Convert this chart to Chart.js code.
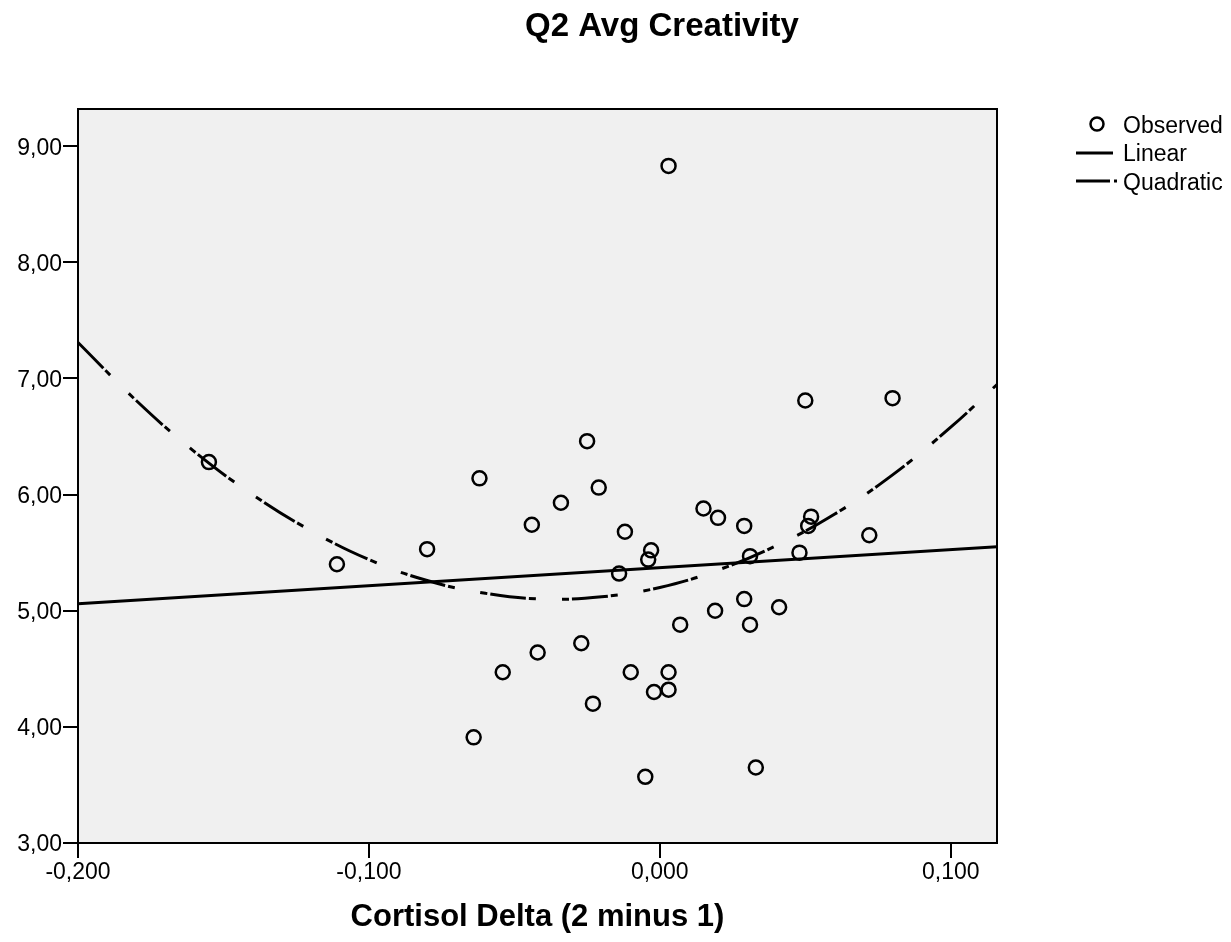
<!DOCTYPE html>
<html>
<head>
<meta charset="utf-8">
<script src="https://cdn.jsdelivr.net/npm/chart.js@4/dist/chart.umd.min.js"></script>
<style>
  body { margin: 0; background: #fff; }
  canvas { display: block; }
</style>
</head>
<body>
<canvas id="chart" width="1231" height="942"></canvas>
<script>
// observed points (cortisol delta, avg creativity)
const obsX = [-0.155, -0.111, -0.080, -0.064, -0.062, -0.054, -0.044, -0.042, -0.034, -0.027,
  -0.025, -0.023, -0.021, -0.014, -0.012, -0.010, -0.005, -0.004, -0.003, -0.002,
  0.003, 0.003, 0.003, 0.007, 0.015, 0.019, 0.020, 0.029, 0.029, 0.031,
  0.031, 0.033, 0.041, 0.048, 0.050, 0.051, 0.052, 0.072, 0.080];
const obsY = [6.28, 5.40, 5.53, 3.91, 6.14, 4.47, 5.74, 4.64, 5.93, 4.72,
  6.46, 4.20, 6.06, 5.32, 5.68, 4.47, 3.57, 5.44, 5.52, 4.30,
  8.83, 4.47, 4.32, 4.88, 5.88, 5.00, 5.80, 5.73, 5.10, 5.47,
  4.88, 3.65, 5.03, 5.50, 6.81, 5.73, 5.81, 5.65, 6.83];

// fit lines
const linX = [-0.200, 0.116];
const linY = [5.06, 5.55];
const quadX = [-0.20, -0.18, -0.16, -0.14, -0.12, -0.10, -0.08, -0.06, -0.04, -0.02,
  0.00, 0.02, 0.04, 0.06, 0.08, 0.10, 0.116];
const quadY = [7.31, 6.81, 6.37, 6.00, 5.69, 5.44, 5.26, 5.15, 5.10, 5.12,
  5.20, 5.35, 5.56, 5.83, 6.17, 6.58, 6.95];

const xTicks = [-0.2, -0.1, 0, 0.1];
const yTicks = [3, 4, 5, 6, 7, 8, 9];

const FONT = "'Liberation Sans', Arial, sans-serif";
const quadDash = [36, 3, 7, 26, 7, 3];

function pairs(xs, ys) {
  return xs.map((x, i) => ({ x: x, y: ys[i] }));
}

function commaNum(v, digits) {
  let s = Math.abs(v) < 1e-9 ? (0).toFixed(digits) : v.toFixed(digits);
  return s.replace('.', ',');
}

const decor = {
  id: 'decor',
  beforeDraw(chart) {
    const ctx = chart.ctx;
    const a = chart.chartArea;
    ctx.save();
    ctx.fillStyle = '#f0f0f0';
    ctx.fillRect(a.left, a.top, a.right - a.left, a.bottom - a.top);
    ctx.restore();
  },
  afterDraw(chart) {
    const ctx = chart.ctx;
    const a = chart.chartArea;
    ctx.save();
    // top and right frame
    ctx.strokeStyle = '#000';
    ctx.lineWidth = 2;
    ctx.beginPath();
    ctx.moveTo(a.left, a.top);
    ctx.lineTo(a.right, a.top);
    ctx.lineTo(a.right, a.bottom);
    ctx.stroke();

    // titles
    ctx.fillStyle = '#000';
    ctx.textAlign = 'center';
    ctx.textBaseline = 'alphabetic';
    ctx.font = 'bold 33px ' + FONT;
    ctx.fillText('Q2 Avg Creativity', 662, 36);
    ctx.font = 'bold 31px ' + FONT;
    ctx.fillText('Cortisol Delta (2 minus 1)', (a.left + a.right) / 2, 926);

    // legend
    ctx.font = '23px ' + FONT;
    ctx.textAlign = 'left';
    ctx.textBaseline = 'middle';
    ctx.lineWidth = 2.5;
    ctx.beginPath();
    ctx.arc(1097, 124, 6.5, 0, Math.PI * 2);
    ctx.stroke();
    ctx.fillText('Observed', 1123, 127);

    ctx.lineWidth = 3;
    ctx.beginPath();
    ctx.moveTo(1076, 153);
    ctx.lineTo(1113, 153);
    ctx.stroke();
    ctx.fillText('Linear', 1123, 155);

    ctx.beginPath();
    ctx.moveTo(1076, 181);
    ctx.lineTo(1110, 181);
    ctx.moveTo(1114, 181);
    ctx.lineTo(1117, 181);
    ctx.stroke();
    ctx.fillText('Quadratic', 1123, 184);
    ctx.restore();
  }
};

new Chart(document.getElementById('chart'), {
  type: 'scatter',
  data: {
    datasets: [
      {
        label: 'Observed',
        data: pairs(obsX, obsY),
        pointRadius: 7,
        pointBorderWidth: 2.5,
        pointBorderColor: '#000',
        pointBackgroundColor: 'rgba(0,0,0,0)',
        showLine: false
      },
      {
        label: 'Linear',
        data: pairs(linX, linY),
        showLine: true,
        pointRadius: 0,
        borderColor: '#000',
        borderWidth: 3
      },
      {
        label: 'Quadratic',
        data: pairs(quadX, quadY),
        showLine: true,
        pointRadius: 0,
        borderColor: '#000',
        borderWidth: 3,
        borderDash: quadDash,
        tension: 0.4
      }
    ]
  },
  options: {
    responsive: false,
    animation: false,
    events: [],
    layout: { padding: { left: 0, top: 109, right: 234, bottom: 0 } },
    plugins: {
      legend: { display: false },
      title: { display: false },
      tooltip: { enabled: false }
    },
    scales: {
      x: {
        type: 'linear',
        min: -0.2,
        max: 0.1159,
        afterFit(scale) { scale.height = 99; },
        afterBuildTicks(scale) { scale.ticks = xTicks.map(v => ({ value: v })); },
        border: { display: true, color: '#000', width: 2 },
        grid: { drawOnChartArea: false, drawTicks: true, tickLength: 15, color: '#000', lineWidth: 2 },
        ticks: {
          color: '#000',
          font: { family: FONT, size: 23 },
          padding: 1,
          maxRotation: 0,
          callback: v => commaNum(v, 3)
        }
      },
      y: {
        type: 'linear',
        min: 3,
        max: 9.32,
        afterFit(scale) { scale.width = 78; },
        afterBuildTicks(scale) { scale.ticks = yTicks.map(v => ({ value: v })); },
        border: { display: true, color: '#000', width: 2 },
        grid: { drawOnChartArea: false, drawTicks: true, tickLength: 15, color: '#000', lineWidth: 2 },
        ticks: {
          color: '#000',
          font: { family: FONT, size: 23 },
          padding: 1,
          labelOffset: 2,
          callback: v => commaNum(v, 2)
        }
      }
    }
  },
  plugins: [decor]
});
</script>
</body>
</html>
